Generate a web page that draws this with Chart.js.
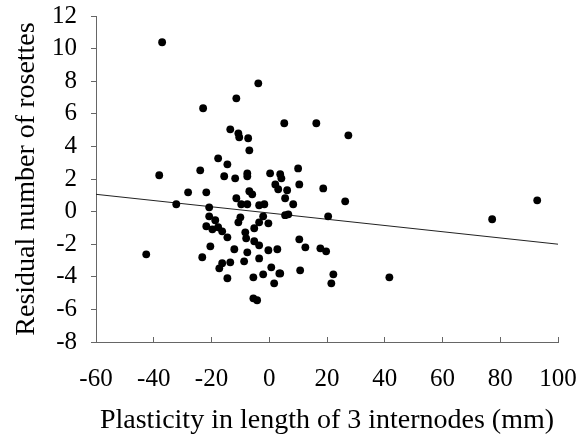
<!DOCTYPE html>
<html>
<head>
<meta charset="utf-8">
<script src="https://cdn.jsdelivr.net/npm/chart.js@4/dist/chart.umd.min.js"></script>
<style>
  html, body { margin: 0; padding: 0; background: #fff; }
  #wrap { width: 581px; height: 438px; }
</style>
</head>
<body>
<div id="wrap"><canvas id="chart" width="581" height="438"></canvas></div>
<script>
// plasticity (mm) vs residual number of rosettes
var plasticity = [
  -37.1, -3.8, -22.9, -11.4, 5.2, 16.3, 27.4, -13.5, -10.7, -10.4,
  -7.3, -6.9, 10.0, 3.8, 4.2, 0.3, 10.4, 18.7, 6.2, 2.1,
  3.1, 5.5, 26.3, 8.3, 5.5, 6.6, 20.4, 77.2, 92.8, 10.4,
  12.5, 17.7, 19.7, 10.7, 3.8, 22.2, 21.5, 41.6, -38.1, -17.7,
  -14.5, -23.9, -15.6, -28.1, -21.8, -32.2, -20.8, -20.8, -18.7, -21.8,
  -19.7, -17.7, -16.3, -14.5, -11.8, -7.6, -7.6, -6.9, -5.9, -11.4,
  -9.7, -7.6, -3.5, -1.7, -10.0, -10.7, -2.1, -3.5, -0.3, -5.2,
  -8.3, -8.0, -5.2, -3.5, -7.6, -0.3, 2.8, -3.5, -20.4, -23.2,
  -42.6, -12.1, -8.7, -16.3, -13.5, -17.3, -14.5, -5.5, -2.1, 0.7,
  3.5, 1.7, -5.5, -4.2
];
var residual = [
  10.39, 7.87, 6.34, 6.95, 5.42, 5.42, 4.68, 5.05, 4.80, 4.56,
  4.50, 3.76, 2.65, 2.29, 2.04, 2.35, 1.67, 1.42, 1.31, 1.67,
  1.37, 0.82, 0.63, 0.45, -0.22, -0.17, -0.29, -0.47, 0.69, -1.70,
  -2.19, -2.25, -2.44, -3.60, -3.79, -3.85, -4.40, -4.03, 2.23, 3.27,
  2.90, 2.53, 2.17, 1.18, 1.18, 0.45, 0.26, -0.29, -0.53, -0.90,
  -1.09, -0.96, -1.21, -1.58, 2.04, 2.35, 2.17, 1.25, 1.06, 0.82,
  0.45, 0.45, 0.39, 0.45, -0.35, -0.66, -0.29, -0.66, -0.72, -1.02,
  -1.27, -1.64, -1.82, -2.07, -2.50, -2.37, -2.31, -2.87, -2.13, -2.80,
  -2.62, -2.31, -3.05, -3.17, -3.11, -3.48, -4.09, -4.03, -3.85, -3.42,
  -3.79, -4.40, -5.32, -5.44
];

// fitted line end points
var fitX = [-60, 100];
var fitY = [1.06, -2.0];

var xTicks = [-60, -40, -20, 0, 20, 40, 60, 80, 100];
var yTicks = [-8, -6, -4, -2, 0, 2, 4, 6, 8, 10, 12];

var xTitle = 'Plasticity in length of 3 internodes (mm)';
var yTitle = 'Residual number of rosettes';

var points = [];
for (var i = 0; i < plasticity.length; i++) {
    points.push({x: plasticity[i], y: residual[i]});
}
var fit = [];
for (var j = 0; j < fitX.length; j++) {
    fit.push({x: fitX[j], y: fitY[j]});
}

var serif = "'Liberation Serif', 'Times New Roman', serif";
var axisColor = '#666';

const ctx = document.getElementById('chart').getContext('2d');
const chart = new Chart(ctx, {
    type: 'scatter',
    data: {
        datasets: [{
            label: 'fit',
            data: fit,
            showLine: true,
            borderColor: '#222',
            borderWidth: 1,
            pointRadius: 0,
            order: 2
        }, {
            label: 'plants',
            data: points,
            backgroundColor: '#000',
            borderColor: '#000',
            borderWidth: 0,
            pointRadius: 3.9,
            order: 1
        }]
    },
    options: {
        responsive: false,
        animation: false,
        events: [],
        layout: {
            padding: {left: 0, top: 16, right: 23, bottom: 0}
        },
        plugins: {
            legend: { display: false },
            tooltip: { enabled: false }
        },
        scales: {
            x: {
                type: 'linear',
                min: -60,
                max: 100,
                afterBuildTicks: function (scale) {
                    scale.ticks = xTicks.map(function (v) { return {value: v}; });
                },
                afterFit: function (scale) {
                    scale.height = 96;
                    scale.paddingLeft = 0;
                    scale.paddingRight = 0;
                },
                border: { color: axisColor, width: 1 },
                // x ticks point up into the plot, as in the source figure
                grid: { display: true, drawOnChartArea: false, color: axisColor, tickLength: -5 },
                ticks: {
                    color: '#000',
                    padding: 27,
                    maxRotation: 0,
                    autoSkip: false,
                    font: { family: serif, size: 25 }
                },
                title: {
                    display: true,
                    text: xTitle,
                    color: '#000',
                    font: { family: serif, size: 28 },
                    padding: { top: 0, bottom: 1 }
                }
            },
            y: {
                type: 'linear',
                min: -8,
                max: 12,
                afterBuildTicks: function (scale) {
                    scale.ticks = yTicks.map(function (v) { return {value: v}; });
                },
                afterFit: function (scale) {
                    scale.width = 96;
                    scale.paddingTop = 0;
                    scale.paddingBottom = 0;
                },
                border: { color: axisColor, width: 1 },
                grid: { display: true, drawOnChartArea: false, color: axisColor, tickLength: 5 },
                ticks: {
                    color: '#000',
                    padding: 14,
                    autoSkip: false,
                    font: { family: serif, size: 25 }
                },
                title: {
                    display: true,
                    text: yTitle,
                    color: '#000',
                    font: { family: serif, size: 28 },
                    padding: { top: 10, bottom: 0 }
                }
            }
        }
    }
});
</script>
</body>
</html>
